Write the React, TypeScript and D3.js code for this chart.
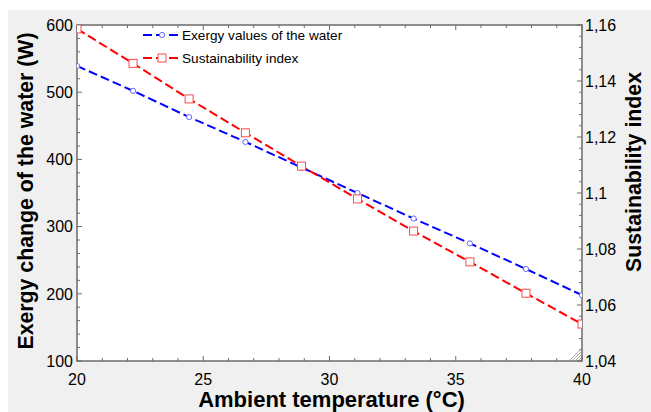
import React from "react";
import * as d3 from "d3";

const temps = [20, 22.22, 24.44, 26.67, 28.89, 31.11, 33.33, 35.56, 37.78, 40];
const exergy = [539, 502, 463, 426, 388, 350, 312, 275, 237, 198];
const sustainability = [1.1586, 1.1463, 1.1336, 1.1215, 1.1096, 1.0979, 1.0864, 1.0754, 1.0642, 1.0532];
const xTicks = [20, 25, 30, 35, 40];
const yLeftTicks = [100, 200, 300, 400, 500, 600];
const yRightTicks = [1.04, 1.06, 1.08, 1.1, 1.12, 1.14, 1.16];
const legendItems = ["Exergy values of the water", "Sustainability index"];

const W = 651;
const H = 412;
const margin = { top: 25, right: 69, bottom: 51, left: 77 };
const innerW = W - margin.left - margin.right;
const innerH = H - margin.top - margin.bottom;

const axisColor = "#6b6b6b";
const blue = "#0000ff";
const red = "#ff0000";
const font = "Liberation Sans, Arial, sans-serif";

export default function App() {
  const x = d3.scaleLinear().domain([20, 40]).range([0, innerW]);
  const yL = d3.scaleLinear().domain([100, 600]).range([innerH, 0]);
  const yR = d3.scaleLinear().domain([1.04, 1.16]).range([innerH, 0]);

  const xMinor = d3.range(20, 40.01, 1);
  const yLMinor = d3.range(100, 600.01, 20);
  const yRMinor = d3.range(0, 31).map((i) => 1.04 + i * 0.004);

  const lineL = d3
    .line<number>()
    .x((_, i) => x(temps[i]))
    .y((d) => yL(d));
  const lineR = d3
    .line<number>()
    .x((_, i) => x(temps[i]))
    .y((d) => yR(d));

  const fmtR = (v: number) => d3.format(".2~f")(v).replace(".", ",");

  return (
    <svg
      width={W}
      height={H}
      style={{ position: "absolute", left: 0, top: 0, fontFamily: font }}
    >
      <rect x={0} y={0} width={W} height={H} fill="#ffffff" />
      <rect x={8} y={10} width={W - 8} height={H - 10} fill="#f0f0f0" />
      <defs>
        <clipPath id="plot-clip">
          <rect x={0} y={0} width={innerW} height={innerH} />
        </clipPath>
      </defs>
      <g transform={`translate(${margin.left},${margin.top})`}>
        <rect x={0} y={0} width={innerW} height={innerH} fill="#ffffff" />

        {/* ticks bottom / top */}
        {xMinor.map((t) => {
          const major = xTicks.includes(Math.round(t * 100) / 100);
          const len = major ? 5 : 3;
          return (
            <g key={`xt${t}`} stroke={axisColor} strokeWidth={1}>
              <line x1={x(t)} x2={x(t)} y1={innerH} y2={innerH - len} />
              <line x1={x(t)} x2={x(t)} y1={0} y2={len} />
            </g>
          );
        })}
        {yLMinor.map((t) => {
          const major = t % 100 === 0;
          return (
            <line
              key={`yl${t}`}
              x1={0}
              x2={major ? 5 : 3}
              y1={yL(t)}
              y2={yL(t)}
              stroke={axisColor}
            />
          );
        })}
        {yRMinor.map((t, i) => {
          const major = i % 5 === 0;
          return (
            <line
              key={`yr${i}`}
              x1={innerW}
              x2={innerW - (major ? 5 : 3)}
              y1={yR(t)}
              y2={yR(t)}
              stroke={axisColor}
            />
          );
        })}

        {/* frame */}
        <rect
          x={0}
          y={0}
          width={innerW}
          height={innerH}
          fill="none"
          stroke={axisColor}
          strokeWidth={1.5}
        />

        {/* corner grip */}
        {[3, 6, 9, 12].map((d) => (
          <line
            key={`g${d}`}
            x1={innerW - d}
            y1={innerH - 1}
            x2={innerW - 1}
            y2={innerH - d}
            stroke="#9a9a9a"
            strokeWidth={0.8}
          />
        ))}

        {/* series */}
        <g clipPath="url(#plot-clip)">
          <path
            d={lineL(exergy) || ""}
            fill="none"
            stroke={blue}
            strokeWidth={2}
            strokeDasharray="9,4"
          />
          <path
            d={lineR(sustainability) || ""}
            fill="none"
            stroke={red}
            strokeWidth={2}
            strokeDasharray="9,4"
          />
          {exergy.map((v, i) => (
            <circle
              key={`bm${i}`}
              cx={x(temps[i])}
              cy={yL(v)}
              r={2.6}
              fill="#ffffff"
              stroke="#6a6aff"
              strokeWidth={1}
            />
          ))}
          {sustainability.map((v, i) => (
            <rect
              key={`rm${i}`}
              x={x(temps[i]) - 4}
              y={yR(v) - 4}
              width={8}
              height={8}
              fill="#ffffff"
              stroke="#ff4a4a"
              strokeWidth={1}
            />
          ))}
        </g>

        {/* tick labels */}
        {xTicks.map((t) => (
          <text
            key={`xl${t}`}
            x={x(t)}
            y={innerH + 24}
            textAnchor="middle"
            fontSize={16}
            fill="#000"
          >
            {t}
          </text>
        ))}
        {yLeftTicks.map((t) => (
          <text
            key={`yll${t}`}
            x={-4}
            y={yL(t) + 5.7}
            textAnchor="end"
            fontSize={16}
            fill="#000"
          >
            {t}
          </text>
        ))}
        {yRightTicks.map((t) => (
          <text
            key={`yrl${t}`}
            x={innerW + 3}
            y={yR(t) + 5.7}
            textAnchor="start"
            fontSize={16}
            fill="#000"
          >
            {fmtR(t)}
          </text>
        ))}

        {/* legend */}
        {legendItems.map((label, i) => {
          const ly = 10 + i * 23;
          const color = i === 0 ? blue : red;
          return (
            <g key={label}>
              <line
                x1={66}
                x2={104}
                y1={ly}
                y2={ly}
                stroke={color}
                strokeWidth={2}
                strokeDasharray="9,4"
              />
              {i === 0 ? (
                <circle cx={85} cy={ly} r={2.6} fill="#fff" stroke="#6a6aff" />
              ) : (
                <rect x={81} y={ly - 4} width={8} height={8} fill="#fff" stroke="#ff4a4a" />
              )}
              <text x={105} y={ly + 5} fontSize={13.6} fill="#000">
                {label}
              </text>
            </g>
          );
        })}
      </g>

      {/* axis titles */}
      <text
        x={margin.left + innerW / 2 + 2}
        y={407}
        textAnchor="middle"
        fontSize={22}
        fontWeight="bold"
        fill="#000"
      >
        Ambient temperature (°C)
      </text>
      <text
        transform={`translate(33,${191}) rotate(-90)`}
        textAnchor="middle"
        fontSize={21.3}
        fontWeight="bold"
        fill="#000"
      >
        Exergy change of the water (W)
      </text>
      <text
        transform={`translate(641,${172}) rotate(-90)`}
        textAnchor="middle"
        fontSize={21.3}
        fontWeight="bold"
        fill="#000"
      >
        Sustainability index
      </text>
    </svg>
  );
}
